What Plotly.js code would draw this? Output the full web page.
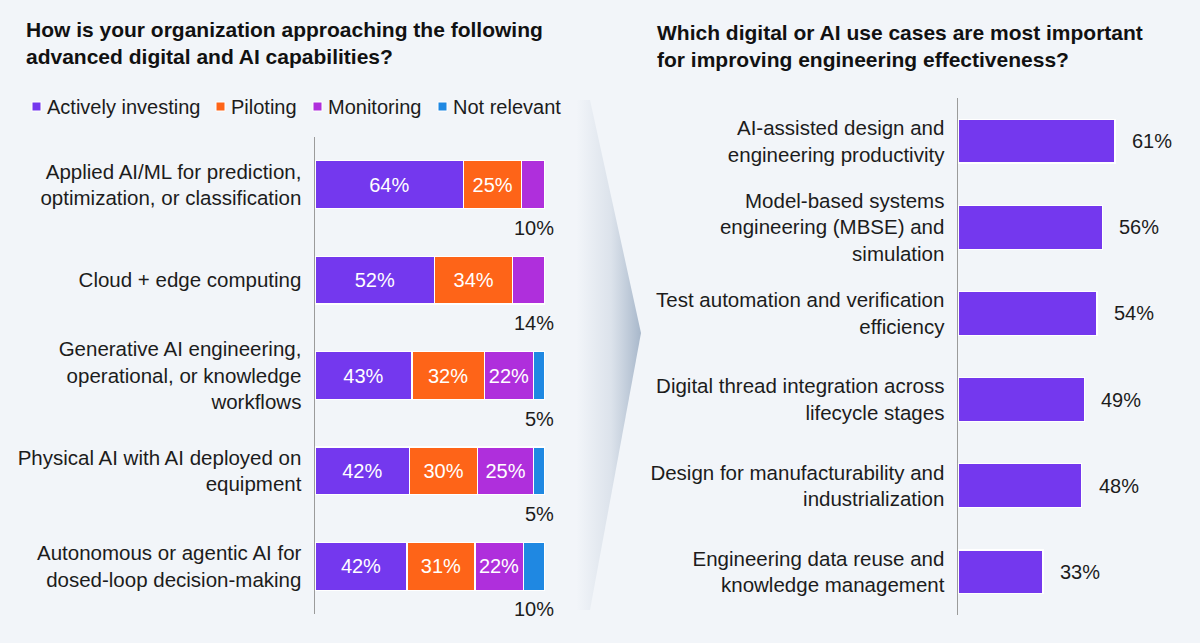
<!DOCTYPE html>
<html>
<head>
<meta charset="utf-8">
<script src="https://cdn.plot.ly/plotly-3.0.1.min.js"></script>
<style>
  html, body { margin: 0; padding: 0; background: #F2F5F9; }
  #chart { width: 1200px; height: 643px; }
</style>
</head>
<body>
<div id="chart"></div>
<script>
// Left panel: how organisations approach each capability (share of respondents, %)
const capabilities = [
  'Applied AI/ML for prediction,<br>optimization, or classification',
  'Cloud + edge computing',
  'Generative AI engineering,<br>operational, or knowledge<br>workflows',
  'Physical AI with AI deployed on<br>equipment',
  'Autonomous or agentic AI for<br>dosed-loop decision-making'
];
const activelyInvesting = [64, 52, 43, 42, 42];
const piloting          = [25, 34, 32, 30, 31];
const monitoring        = [10, 14, 22, 25, 22];
const notRelevant       = [0, 0, 5, 5, 10];

// Right panel: most important use cases (%)
const useCases = [
  'AI-assisted design and<br>engineering productivity',
  'Model-based systems<br>engineering (MBSE) and<br>simulation',
  'Test automation and verification<br>efficiency',
  'Digital thread integration across<br>lifecycle stages',
  'Design for manufacturability and<br>industrialization',
  'Engineering data reuse and<br>knowledge management'
];
const importance = [61, 56, 54, 49, 48, 33];

const seriesNames  = ['Actively investing', 'Piloting', 'Monitoring', 'Not relevant'];
const seriesValues = [activelyInvesting, piloting, monitoring, notRelevant];
const seriesColors = ['#7438EE', '#FE6418', '#AF2FDC', '#1F88E2'];

const W = 1200, H = 643;
const px = v => v / W;          // pixel -> paper x
const py = v => 1 - v / H;      // pixel -> paper y
const FONT = 'Liberation Sans, Arial, Helvetica, sans-serif';
const TEXT = '#1c1c1c';

// Each capability row is shown as a full-width stack (shares scaled to the row total)
const rowTotals = capabilities.map((_, r) =>
  seriesValues.reduce((sum, vals) => sum + vals[r], 0));

// The last non-zero segment of each row is labelled beneath the bar
const lastIdx = capabilities.map((_, r) => {
  let k = -1;
  seriesValues.forEach((vals, s) => { if (vals[r] > 0) k = s; });
  return k;
});

const traces = seriesValues.map((vals, s) => ({
  type: 'bar',
  orientation: 'h',
  name: seriesNames[s],
  y: capabilities,
  x: vals.map((v, r) => v / rowTotals[r] * 100),
  customdata: vals,
  hovertemplate: '%{customdata}%<extra>' + seriesNames[s] + '</extra>',
  xaxis: 'x', yaxis: 'y',
  marker: { color: seriesColors[s], line: { color: '#FFFFFF', width: 1.2 } },
  text: vals.map((v, r) => (lastIdx[r] === s || v === 0) ? '' : v + '%'),
  textposition: 'inside',
  insidetextanchor: 'middle',
  constraintext: 'none',
  textangle: 0,
  insidetextfont: { color: '#FFFFFF', size: 20, family: FONT },
  width: 0.5,
  showlegend: false
}));

traces.push({
  type: 'bar',
  orientation: 'h',
  y: useCases,
  x: importance,
  xaxis: 'x2', yaxis: 'y2',
  marker: { color: '#7438EE', line: { color: '#FFFFFF', width: 1.2 } },
  width: 0.51,
  hoverinfo: 'x',
  showlegend: false
});

const annotations = [];

// Panel titles
annotations.push({
  xref: 'paper', yref: 'paper', x: px(24), y: py(16), xanchor: 'left', yanchor: 'top',
  align: 'left', showarrow: false,
  text: '<b>How is your organization approaching the following<br>advanced digital and AI capabilities?</b>',
  font: { family: FONT, size: 21, color: '#111111' }
});
annotations.push({
  xref: 'paper', yref: 'paper', x: px(655), y: py(19), xanchor: 'left', yanchor: 'top',
  align: 'left', showarrow: false,
  text: '<b>Which digital or AI use cases are most important<br>for improving engineering effectiveness?</b>',
  font: { family: FONT, size: 21, color: '#111111' }
});

// Legend entries (swatch + label)
const legendSwatchX = [32, 216, 313, 438];
const shapes = [];
seriesNames.forEach((name, s) => {
  const x0 = legendSwatchX[s];
  shapes.push({
    type: 'rect', xref: 'paper', yref: 'paper',
    x0: px(x0), x1: px(x0 + 9), y0: py(111), y1: py(102),
    fillcolor: seriesColors[s], line: { color: '#FFFFFF', width: 1 }
  });
  annotations.push({
    xref: 'paper', yref: 'paper', x: px(x0 + 13), y: py(107),
    xanchor: 'left', yanchor: 'middle', showarrow: false,
    text: name, font: { family: FONT, size: 20, color: TEXT }
  });
});

// Labels under the bar for the final segment of each row
capabilities.forEach((cat, r) => {
  const s = lastIdx[r];
  annotations.push({
    xref: 'x', yref: 'y', x: 100, y: cat,
    xanchor: 'right', yanchor: 'middle', xshift: 11, yshift: -43,
    showarrow: false, text: seriesValues[s][r] + '%',
    font: { family: FONT, size: 20, color: TEXT }
  });
});

// Value labels to the right of each use-case bar
useCases.forEach((cat, r) => {
  annotations.push({
    xref: 'x2', yref: 'y2', x: importance[r], y: cat,
    xanchor: 'left', yanchor: 'middle', xshift: 15,
    showarrow: false, text: importance[r] + '%',
    font: { family: FONT, size: 20, color: TEXT }
  });
});

// Soft chevron between the two panels
const chevronSvg =
  '<svg xmlns="http://www.w3.org/2000/svg" width="90" height="520" viewBox="0 0 90 520">' +
  '<defs><linearGradient id="g" x1="0" y1="0" x2="1" y2="0">' +
  '<stop offset="0.25" stop-color="#A9B8CB" stop-opacity="0"/>' +
  '<stop offset="0.65" stop-color="#A9B8CB" stop-opacity="0.3"/>' +
  '<stop offset="1" stop-color="#9FB0C5" stop-opacity="0.9"/>' +
  '</linearGradient></defs>' +
  '<polygon points="0,5 35,5 86,238 35,515 0,515" fill="url(#g)"/></svg>';

const tickFont = { family: FONT, size: 20.5, color: TEXT };

const layout = {
  width: W, height: H,
  margin: { l: 0, r: 0, t: 0, b: 0 },
  paper_bgcolor: '#F2F5F9',
  plot_bgcolor: 'rgba(0,0,0,0)',
  barmode: 'stack',
  font: { family: FONT, size: 20, color: TEXT },
  showlegend: false,
  xaxis: {
    domain: [px(315), px(545)], range: [0, 100],
    visible: false, fixedrange: true
  },
  yaxis: {
    domain: [py(614), py(137)], type: 'category',
    range: [capabilities.length - 0.5, -0.5], autorange: false,
    showline: true, linecolor: '#9B9B9B', linewidth: 1.5,
    showgrid: false, zeroline: false, ticks: '',
    ticklabelstandoff: 8, tickfont: tickFont, fixedrange: true
  },
  xaxis2: {
    domain: [px(958), px(958 + 80 * 2.575)], range: [0, 80], anchor: 'y2',
    visible: false, fixedrange: true
  },
  yaxis2: {
    domain: [py(615), py(98)], anchor: 'x2', type: 'category',
    range: [useCases.length - 0.5, -0.5], autorange: false,
    showline: true, linecolor: '#9B9B9B', linewidth: 1.5,
    showgrid: false, zeroline: false, ticks: '',
    ticklabelstandoff: 8, tickfont: tickFont, fixedrange: true
  },
  shapes: shapes,
  annotations: annotations,
  images: [{
    source: 'data:image/svg+xml;base64,' + btoa(chevronSvg),
    xref: 'paper', yref: 'paper',
    x: px(555), y: py(95), sizex: px(90), sizey: 520 / H,
    xanchor: 'left', yanchor: 'top', sizing: 'stretch', layer: 'below'
  }]
};

Plotly.newPlot('chart', traces, layout, { displayModeBar: false, staticPlot: true });
</script>
</body>
</html>
